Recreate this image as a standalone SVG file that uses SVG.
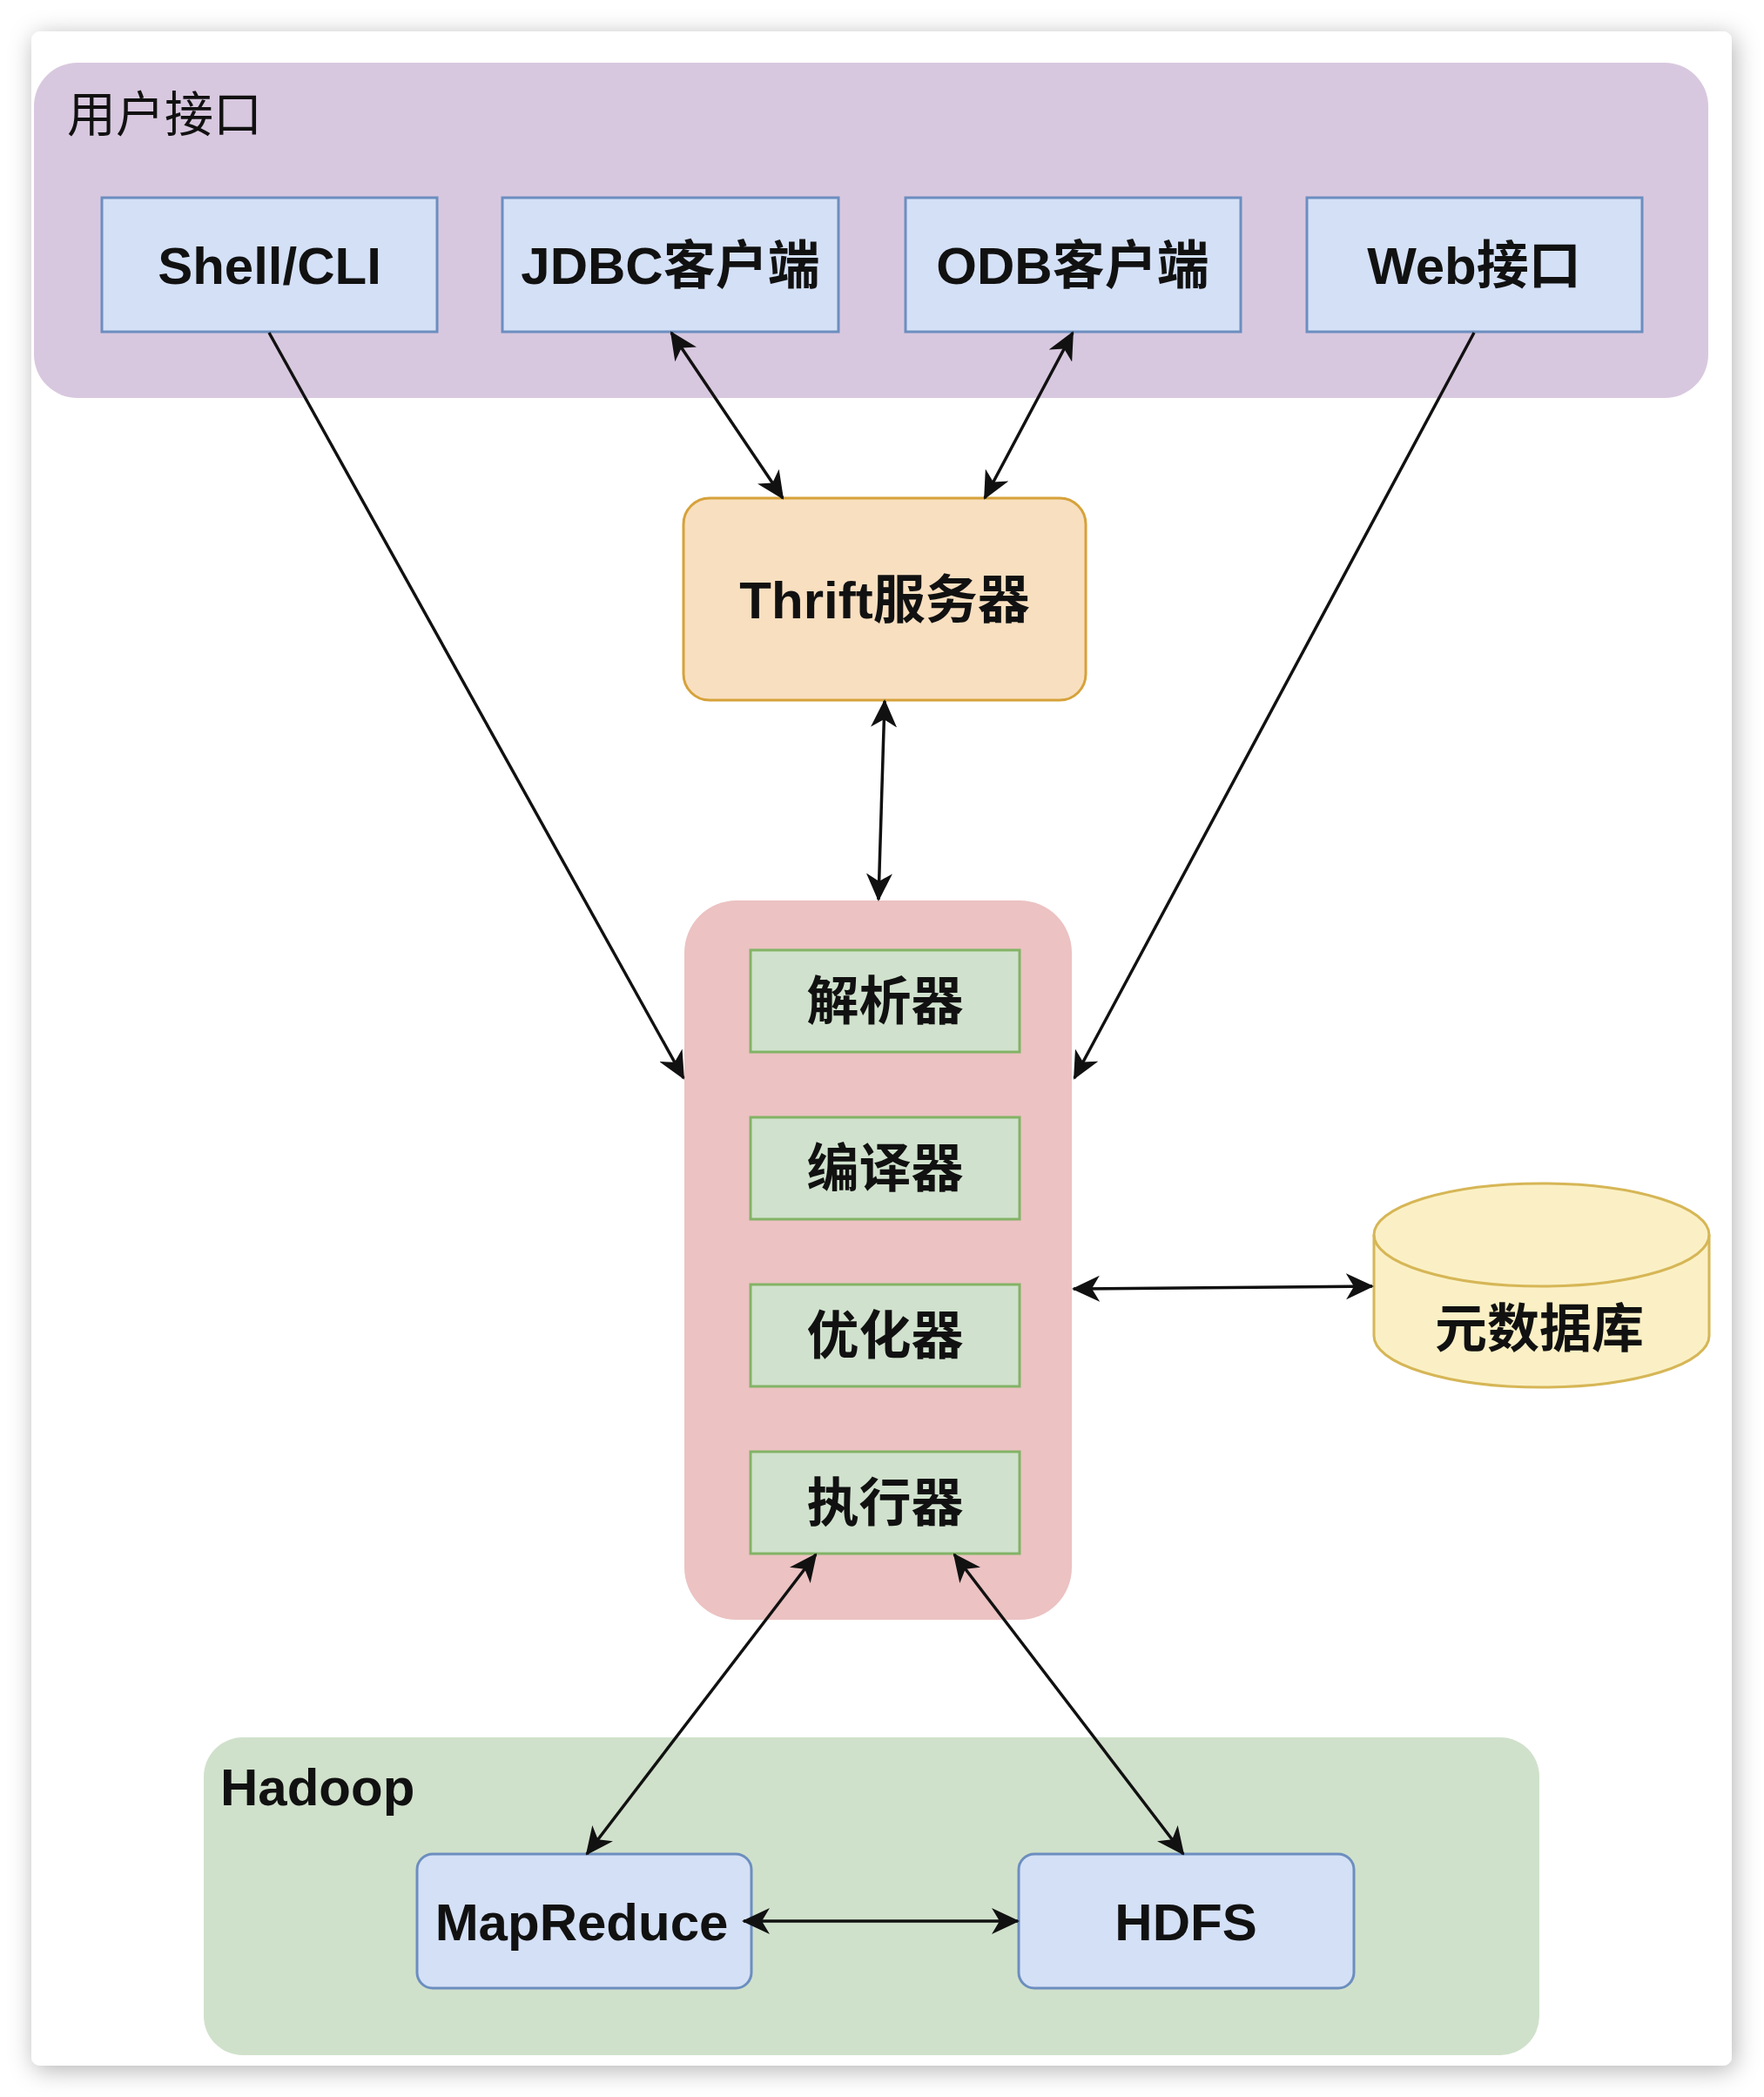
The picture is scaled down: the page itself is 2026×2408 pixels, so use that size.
<svg xmlns="http://www.w3.org/2000/svg" width="2026" height="2408" viewBox="0 0 2026 2408">
<style>
.lbl{font-family:"Liberation Sans","Noto Sans CJK SC",sans-serif;font-size:60px;font-weight:bold;fill:#111;text-anchor:middle}
.title{font-family:"Liberation Sans","Noto Sans CJK SC",sans-serif;font-size:56px;fill:#111}
.blue{fill:#d4e0f6;stroke:#6c8ebf;stroke-width:3}
.green{fill:#d0e2cd;stroke:#82b366;stroke-width:3}
.edge{stroke:#111;stroke-width:3.5;fill:none}
</style>
<defs>
<filter id="sh" x="-5%" y="-5%" width="110%" height="110%">
<feDropShadow dx="3" dy="5" stdDeviation="14" flood-color="#000" flood-opacity="0.3"/>
</filter>
<marker id="ah" viewBox="0 0 32 30" markerWidth="32" markerHeight="30" refX="30" refY="15" markerUnits="userSpaceOnUse" orient="auto-start-reverse">
<path d="M0,0 L32,15 L0,30 L9,15 Z" fill="#111"/>
</marker>
</defs>
<rect x="0" y="0" width="2026" height="2408" fill="#ffffff"/>
<rect x="36" y="36" width="1953" height="2336" rx="10" fill="#ffffff" filter="url(#sh)"/>

<g id="user-interface">
<rect x="39" y="72" width="1923" height="385" rx="50" fill="#d8c8df"/>
<text class="title" x="77" y="151">用户接口</text>
</g>
<g id="shell-cli"><rect class="blue" x="117" y="227" width="385" height="154"/><text class="lbl" x="309.5" y="326">Shell/CLI</text></g>
<g id="jdbc"><rect class="blue" x="577" y="227" width="386" height="154"/><text class="lbl" x="770" y="326">JDBC客户端</text></g>
<g id="odb"><rect class="blue" x="1040" y="227" width="385" height="154"/><text class="lbl" x="1232" y="326">ODB客户端</text></g>
<g id="web"><rect class="blue" x="1501" y="227" width="385" height="154"/><text class="lbl" x="1693" y="326">Web接口</text></g>

<g id="thrift"><rect x="785" y="572" width="462" height="232" rx="30" fill="#f8dfc0" stroke="#d6a23a" stroke-width="3"/><text class="lbl" x="1016" y="710">Thrift服务器</text></g>

<g id="driver">
<rect x="786" y="1034" width="445" height="826" rx="60" fill="#ecc2c2"/>
</g>
<g id="parser"><rect class="green" x="862" y="1091" width="309" height="117"/><text class="lbl" x="1016.5" y="1171">解析器</text></g>
<g id="compiler"><rect class="green" x="862" y="1283" width="309" height="117"/><text class="lbl" x="1016.5" y="1363">编译器</text></g>
<g id="optimizer"><rect class="green" x="862" y="1475" width="309" height="117"/><text class="lbl" x="1016.5" y="1555">优化器</text></g>
<g id="executor"><rect class="green" x="862" y="1667" width="309" height="117"/><text class="lbl" x="1016.5" y="1747">执行器</text></g>

<g id="metastore">
<path d="M1578,1418 A192.5,59 0 0 1 1963,1418 L1963,1534 A192.5,59 0 0 1 1578,1534 Z" fill="#fbf0c5" stroke="#d6b656" stroke-width="3"/>
<path d="M1578,1418 A192.5,59 0 0 0 1963,1418" fill="none" stroke="#d6b656" stroke-width="3"/>
<text class="lbl" x="1768" y="1547">元数据库</text>
</g>

<g id="hadoop">
<rect x="234" y="1995" width="1534" height="365" rx="45" fill="#d0e1cb"/>
<text class="lbl" x="253" y="2073" style="text-anchor:start">Hadoop</text>
</g>
<g id="mapreduce"><rect class="blue" x="479" y="2129" width="384" height="154" rx="18"/><text class="lbl" x="668" y="2228">MapReduce</text></g>
<g id="hdfs"><rect class="blue" x="1170" y="2129" width="385" height="154" rx="18"/><text class="lbl" x="1362" y="2228">HDFS</text></g>

<g id="connectors">
<line class="edge" x1="309" y1="382" x2="785" y2="1238" marker-end="url(#ah)"/>
<line class="edge" x1="771" y1="382" x2="899" y2="572" marker-start="url(#ah)" marker-end="url(#ah)"/>
<line class="edge" x1="1232" y1="382" x2="1131" y2="572" marker-start="url(#ah)" marker-end="url(#ah)"/>
<line class="edge" x1="1693" y1="382" x2="1234" y2="1238" marker-end="url(#ah)"/>
<line class="edge" x1="1016" y1="805" x2="1009" y2="1033" marker-start="url(#ah)" marker-end="url(#ah)"/>
<line class="edge" x1="1233" y1="1480" x2="1576" y2="1477" marker-start="url(#ah)" marker-end="url(#ah)"/>
<line class="edge" x1="937" y1="1785" x2="674" y2="2129" marker-start="url(#ah)" marker-end="url(#ah)"/>
<line class="edge" x1="1096" y1="1785" x2="1359" y2="2129" marker-start="url(#ah)" marker-end="url(#ah)"/>
<line class="edge" x1="854" y1="2206" x2="1169" y2="2206" marker-start="url(#ah)" marker-end="url(#ah)"/>
</g>
</svg>
